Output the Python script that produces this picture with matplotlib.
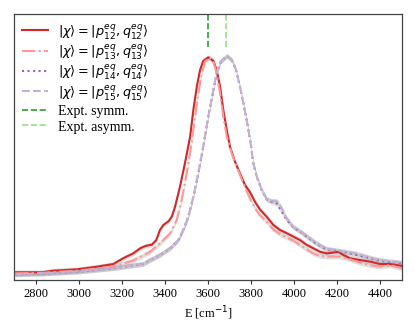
import matplotlib
matplotlib.use("Agg")
import matplotlib.pyplot as plt
import numpy as np

plt.rcParams['font.family'] = ['Liberation Serif', 'DejaVu Serif']
plt.rcParams['mathtext.fontset'] = 'dejavusans'

# Series 12 (red solid)
E12 = [2705, 2829, 2882, 2991, 3084, 3161, 3207, 3253, 3285, 3310, 3340, 3360, 3377, 3393, 3416,
       3432, 3447, 3470, 3493, 3517, 3532, 3548, 3563, 3578, 3601, 3625, 3640, 3656, 3671, 3687,
       3702, 3725, 3748, 3772, 3795, 3818, 3841, 3872, 3903, 3934, 3965, 3996, 4027, 4058, 4089,
       4120, 4151, 4181, 4205, 4228, 4259, 4305, 4352, 4398, 4444, 4499]
I12 = [0.029, 0.029, 0.035, 0.040, 0.050, 0.060, 0.082, 0.100, 0.119, 0.128, 0.133, 0.150, 0.188, 0.207, 0.220,
       0.238, 0.275, 0.351, 0.439, 0.539, 0.639, 0.727, 0.789, 0.824, 0.837, 0.824, 0.789, 0.727, 0.639, 0.564,
       0.501, 0.445, 0.401, 0.357, 0.330, 0.294, 0.265, 0.238, 0.207, 0.188, 0.176, 0.163, 0.150, 0.132, 0.119,
       0.106, 0.100, 0.103, 0.106, 0.094, 0.082, 0.075, 0.069, 0.060, 0.060, 0.053]

# Series 13 (light red dash-dot)
E13 = [2705, 2829, 2992, 3159, 3252, 3331, 3377, 3424, 3455, 3478, 3501, 3524, 3540, 3555, 3571,
       3586, 3606, 3625, 3640, 3656, 3671, 3687, 3710, 3733, 3764, 3795, 3818, 3841, 3872, 3903,
       3934, 3965, 3996, 4027, 4058, 4089, 4120, 4166, 4212, 4259, 4305, 4352, 4398, 4444, 4499]
I13 = [0.025, 0.027, 0.035, 0.050, 0.073, 0.106, 0.138, 0.175, 0.226, 0.301, 0.401, 0.514, 0.614, 0.702, 0.777,
       0.821, 0.837, 0.821, 0.777, 0.702, 0.614, 0.539, 0.476, 0.426, 0.364, 0.305, 0.270, 0.244, 0.219, 0.190,
       0.173, 0.160, 0.148, 0.132, 0.115, 0.100, 0.090, 0.088, 0.088, 0.078, 0.065, 0.056, 0.050, 0.056, 0.044]

# Series 14 (purple dotted)
E14 = [2705, 2829, 2992, 3159, 3298, 3331, 3377, 3424, 3462, 3485, 3509, 3532, 3555, 3578, 3601,
       3625, 3640, 3659, 3687, 3710, 3730, 3748, 3764, 3782, 3799, 3810, 3826, 3849, 3872, 3895,
       3919, 3942, 3965, 3996, 4027, 4058, 4089, 4120, 4151, 4197, 4243, 4290, 4336, 4383, 4429,
       4499]
I14 = [0.021, 0.024, 0.031, 0.044, 0.060, 0.075, 0.094, 0.119, 0.150, 0.188, 0.238, 0.313, 0.401, 0.501, 0.614,
       0.714, 0.777, 0.821, 0.842, 0.827, 0.789, 0.727, 0.664, 0.589, 0.507, 0.439, 0.388, 0.338, 0.303, 0.294,
       0.288, 0.257, 0.226, 0.198, 0.182, 0.163, 0.144, 0.128, 0.115, 0.110, 0.103, 0.094, 0.085, 0.075, 0.069,
       0.063]

# Series 15 (light purple dashed)
E15 = [2705, 2829, 2992, 3159, 3298, 3331, 3377, 3424, 3462, 3485, 3509, 3532, 3555, 3578, 3601,
       3625, 3640, 3659, 3687, 3710, 3730, 3748, 3764, 3782, 3799, 3810, 3826, 3849, 3872, 3895,
       3919, 3934, 3950, 3965, 3996, 4027, 4058, 4089, 4120, 4151, 4197, 4243, 4290, 4336, 4383,
       4429, 4499]
I15 = [0.022, 0.025, 0.032, 0.045, 0.061, 0.076, 0.095, 0.120, 0.151, 0.189, 0.239, 0.314, 0.402, 0.502, 0.615,
       0.715, 0.778, 0.822, 0.843, 0.828, 0.790, 0.728, 0.665, 0.590, 0.508, 0.440, 0.389, 0.339, 0.305, 0.298,
       0.297, 0.282, 0.257, 0.232, 0.200, 0.184, 0.166, 0.147, 0.131, 0.118, 0.112, 0.106, 0.100, 0.088, 0.078,
       0.072, 0.066]

expt_symm = 3600
expt_asymm = 3685

labels = [r'$|\chi\rangle = |p^{eq}_{12}, q^{eq}_{12}\rangle$',
          r'$|\chi\rangle = |p^{eq}_{13}, q^{eq}_{13}\rangle$',
          r'$|\chi\rangle = |p^{eq}_{14}, q^{eq}_{14}\rangle$',
          r'$|\chi\rangle = |p^{eq}_{15}, q^{eq}_{15}\rangle$',
          'Expt. symm.', 'Expt. asymm.']

fig = plt.figure(figsize=(4.15, 3.33), dpi=100)
ax = fig.add_axes([14/415, 1 - 280/333, 388/415, 266/333])

band = 0.009
for E, I in [(E12, I12), (E13, I13), (E14, I14), (E15, I15)]:
    E = np.array(E); I = np.array(I)
    ax.fill_between(E, I - band, I + band, color='0.6', alpha=0.3, lw=0)

ax.plot(E12, I12, color='#d62728', lw=1.5, label=labels[0])
ax.plot(E13, I13, color='#ff9896', lw=1.5, ls='-.', label=labels[1])
ax.plot(E14, I14, color='#9467bd', lw=1.5, ls=':', label=labels[2])
ax.plot(E15, I15, color='#c5b0d5', lw=1.5, ls='--', label=labels[3])
ax.axvline(expt_symm, ymin=0.875, ymax=1, color='#2ca02c', ls='--', lw=1.2, label=labels[4])
ax.axvline(expt_asymm, ymin=0.875, ymax=1, color='#98df8a', ls='--', lw=1.2, label=labels[5])

ax.set_xlim(2700, 4500)
ax.set_ylim(0, 1)
ax.set_yticks([])
ax.set_xticks(np.arange(2800, 4401, 200))
ax.tick_params(axis='x', labelsize=9, length=3, width=0.8, colors='#333333', labelcolor='black', pad=3)
ax.set_xlabel(r'E [cm$^{-1}$]', fontsize=9, labelpad=3)
for s in ax.spines.values():
    s.set_color('#444444')
    s.set_linewidth(0.9)

leg = ax.legend(loc='upper left', frameon=False, fontsize=9.3, handlelength=2.0, handleheight=1.3,
                handletextpad=0.75, borderaxespad=0.3, borderpad=0.35, labelspacing=0.1)
for t in leg.get_texts()[4:]:
    t.set_fontsize(10)

fig.savefig('out.png', dpi=100)
